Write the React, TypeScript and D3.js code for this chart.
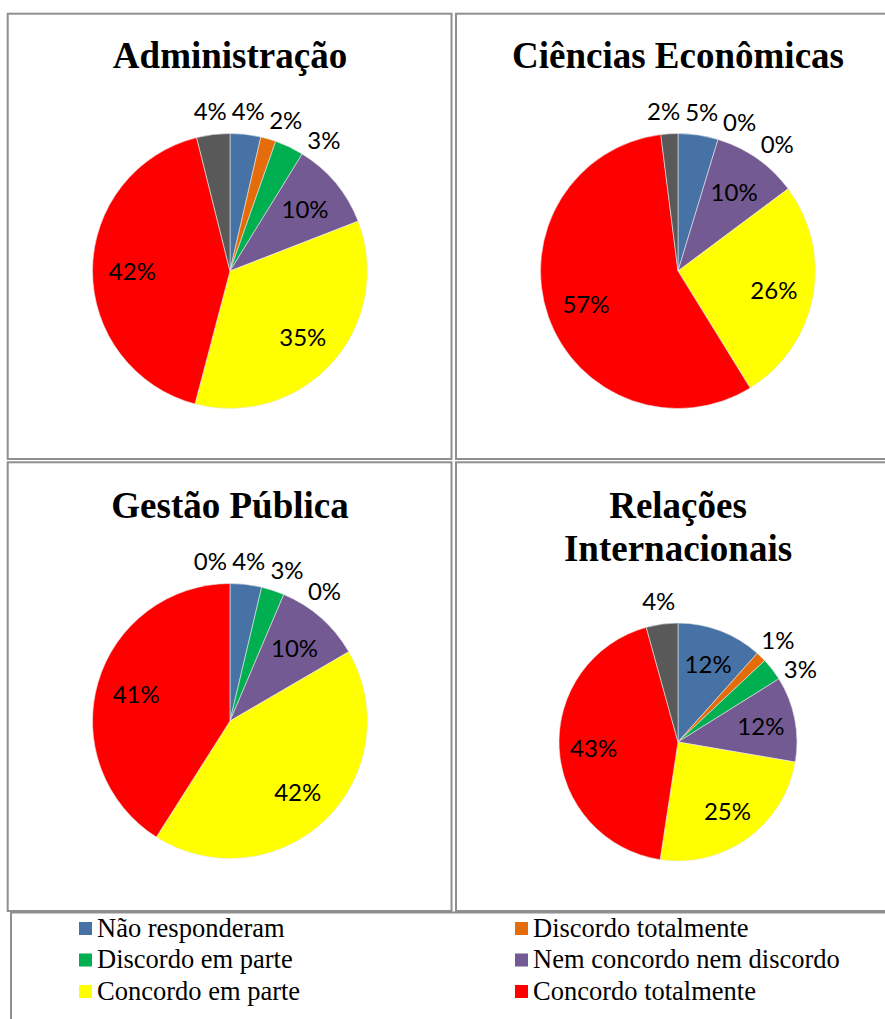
import React from "react";
import * as d3 from "d3";

// ---- data ----
const categories = [
  "Não responderam",
  "Discordo totalmente",
  "Discordo em parte",
  "Nem concordo nem discordo",
  "Concordo em parte",
  "Concordo totalmente",
  "Outros",
];
const legendCategories = categories.slice(0, 6);
const colors = ["#4672a6", "#e46c0a", "#00b050", "#735a92", "#ffff00", "#ff0000", "#595959"];

const adminValues = [3.6, 1.8, 3.4, 10.3, 35.0, 42.0, 3.9];
const cienciasValues = [4.7, 0, 0, 10.1, 26.4, 56.8, 2.0];
const gestaoValues = [3.7, 0, 2.7, 10.2, 42.4, 41.0, 0];
const riValues = [11.6, 1.4, 3.1, 11.6, 24.7, 43.3, 4.3];

const adminTitle = ["Administração"];
const cienciasTitle = ["Ciências Econômicas"];
const gestaoTitle = ["Gestão Pública"];
const riTitle = ["Relações", "Internacionais"];

// ---- layout ----
const W = 885;
const H = 1019;
const LABEL_FONT = 24;
const LABEL_FAMILY = "Lato, 'Open Sans', sans-serif";

const panels = [
  { title: adminTitle, values: adminValues, cx: 230, cy: 271, r: 137.5, ty: 68, box: [7.7, 13.7, 451.5, 459] },
  { title: cienciasTitle, values: cienciasValues, cx: 678, cy: 271, r: 137.5, ty: 68, box: [456, 13.7, 900, 459] },
  { title: gestaoTitle, values: gestaoValues, cx: 230, cy: 721, r: 137.5, ty: 518, box: [7.7, 462.3, 451.5, 911] },
  { title: riTitle, values: riValues, cx: 678, cy: 742, r: 119, ty: 518, box: [456, 462.3, 900, 911] },
];

let measureCtx: CanvasRenderingContext2D | null = null;
function textWidth(s: string) {
  if (!measureCtx) {
    const c = document.createElement("canvas");
    measureCtx = c.getContext("2d");
  }
  if (measureCtx) {
    measureCtx.font = `${LABEL_FONT}px Lato`;
    return measureCtx.measureText(s).width;
  }
  return s.length * LABEL_FONT * 0.6;
}

type Lab = { x: number; y: number; text: string };

function layoutLabels(values: number[], cx: number, cy: number, r: number): Lab[] {
  const pie = d3.pie<number>().sort(null).value((d) => d);
  const arcs = pie(values);
  const out: Lab[] = new Array(values.length);
  const boxes: { x: number; y: number; w: number; h: number }[] = [];
  const h = LABEL_FONT * 1.15;
  const pad = 4;
  const rOut = r + 24;
  const deg = Math.PI / 180;
  const posAt = (a: number) => ({ x: cx + rOut * Math.sin(a), y: cy - rOut * Math.cos(a) });
  const collides = (x: number, y: number, w: number) =>
    boxes.some((b) => Math.abs(b.x - x) < (b.w + w) / 2 + pad && Math.abs(b.y - y) < (b.h + h) / 2);
  const place = (i: number, dir: number) => {
    const a = arcs[i];
    const text = `${Math.round(values[i])}%`;
    const w = textWidth(text);
    let ang = (a.startAngle + a.endAngle) / 2;
    let p = posAt(ang);
    let k = 0;
    while (collides(p.x, p.y, w) && k < 240) {
      ang += dir * 0.5 * deg;
      p = posAt(ang);
      k++;
    }
    boxes.push({ x: p.x, y: p.y, w, h });
    out[i] = { x: p.x, y: p.y, text };
  };

  const right: number[] = [];
  const left: number[] = [];
  const zRight: number[] = [];
  const zLeft: number[] = [];
  arcs.forEach((a, i) => {
    const v = values[i];
    const mid = (a.startAngle + a.endAngle) / 2;
    if (v >= 8) {
      const rr = r * 0.71;
      out[i] = { x: cx + rr * Math.sin(mid), y: cy - rr * Math.cos(mid), text: `${Math.round(v)}%` };
    } else if (v > 0) {
      (mid < Math.PI ? right : left).push(i);
    } else {
      (mid < Math.PI ? zRight : zLeft).push(i);
    }
  });
  right.forEach((i) => place(i, 1));
  left.slice().reverse().forEach((i) => place(i, -1));
  zRight.forEach((i) => place(i, 1));
  zLeft.slice().reverse().forEach((i) => place(i, -1));
  return out;
}

function Panel({ p }: { p: (typeof panels)[number] }) {
  const pie = d3.pie<number>().sort(null).value((d) => d);
  const arcs = pie(p.values);
  const arcGen = d3.arc<d3.PieArcDatum<number>>().innerRadius(0).outerRadius(p.r);
  const labels = layoutLabels(p.values, p.cx, p.cy, p.r);
  const [x0, y0, x1, y1] = p.box;
  return (
    <g>
      <rect x={x0} y={y0} width={x1 - x0} height={y1 - y0} fill="#fff" stroke="#8f8f8f" strokeWidth={2} />
      {p.title.map((t, i) => (
        <text
          key={i}
          x={p.cx}
          y={p.ty + i * 43.3}
          textAnchor="middle"
          fontFamily="'Liberation Serif', 'Times New Roman', serif"
          fontWeight="bold"
          fontSize={37}
          fill="#000"
        >
          {t}
        </text>
      ))}
      <g transform={`translate(${p.cx},${p.cy})`}>
        {arcs.map((a, i) =>
          a.value > 0 ? (
            <path key={i} d={arcGen(a) || ""} fill={colors[i]} stroke="#e8e8e8" strokeWidth={0.6} />
          ) : null
        )}
      </g>
      {labels.map((l, i) =>
        l ? (
          <text
            key={i}
            x={l.x}
            y={l.y}
            textAnchor="middle"
            dominantBaseline="central"
            fontFamily={LABEL_FAMILY}
            fontSize={LABEL_FONT}
            fill="#000"
          >
            {l.text}
          </text>
        ) : null
      )}
    </g>
  );
}

export default function App() {
  return (
    <svg
      width={W}
      height={H}
      style={{ position: "absolute", left: 0, top: 0, background: "#fff" }}
    >
      <rect x={0} y={0} width={W} height={H} fill="#fff" />
      {panels.map((p, i) => (
        <Panel key={i} p={p} />
      ))}
      <rect x={11} y={912.5} width={900} height={200} fill="#fff" stroke="#8f8f8f" strokeWidth={2} />
      {legendCategories.map((c, i) => {
        const col = i % 2;
        const row = Math.floor(i / 2);
        const sx = col === 0 ? 79 : 515;
        const sy = 922 + row * 31.5;
        return (
          <g key={i}>
            <rect x={sx} y={sy} width={13} height={13} fill={colors[i]} />
            <text
              x={sx + 18}
              y={936.5 + row * 31.5}
              fontFamily="'Liberation Serif', 'Times New Roman', serif"
              fontSize={26.5}
              fill="#000"
            >
              {c}
            </text>
          </g>
        );
      })}
    </svg>
  );
}
